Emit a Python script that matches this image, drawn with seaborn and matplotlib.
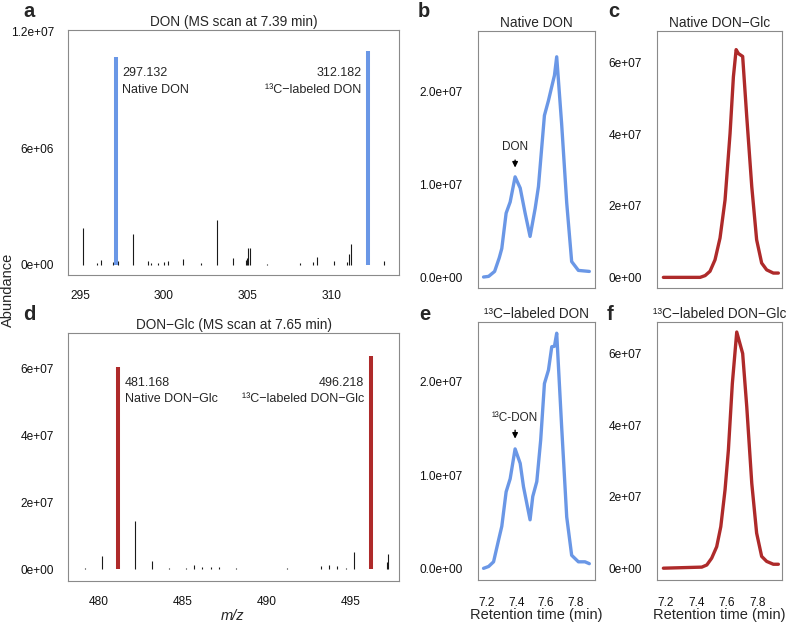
import numpy as np
import pandas as pd
import matplotlib
matplotlib.use("Agg")
import matplotlib.pyplot as plt
import seaborn as sns

# ---------------- data ----------------
# Panel a: MS scan of DON at 7.39 min
don_main_mz = [297.132, 312.182]
don_main_ab = [10.7e6, 11.0e6]
don_minor_mz = [295.20, 296.00, 296.25, 296.95, 297.28, 298.16, 299.07, 299.21, 299.63,
                300.02, 300.23, 301.14, 302.21, 303.15, 304.14, 304.89, 304.95, 305.03,
                305.13, 306.16, 308.11, 308.90, 309.10, 310.14, 310.90, 311.03, 311.15, 313.12]
don_minor_ab = [1.9e6, 0.1e6, 0.25e6, 0.15e6, 0.2e6, 1.6e6, 0.2e6, 0.1e6, 0.1e6,
                0.15e6, 0.2e6, 0.3e6, 0.1e6, 2.3e6, 0.35e6, 0.25e6, 0.35e6, 0.85e6,
                0.9e6, 0.05e6, 0.1e6, 0.15e6, 0.4e6, 0.2e6, 0.15e6, 0.55e6, 1.1e6, 0.2e6]
a_xticks = [295, 300, 305, 310]
a_yticks = [0, 6e6, 1.2e7]
a_ylabels = ["0e+00", "6e+06", "1.2e+07"]

# Panel d: MS scan of DON-Glc at 7.65 min
glc_main_mz = [481.168, 496.218]
glc_main_ab = [6.05e7, 6.37e7]
glc_minor_mz = [479.20, 480.23, 482.18, 483.19, 484.20, 485.20, 485.69, 486.18, 486.68,
                487.18, 488.17, 491.20, 492.23, 493.23, 493.72, 494.21, 494.71, 495.23,
                495.70, 497.19, 497.25]
glc_minor_ab = [0.05e7, 0.41e7, 1.44e7, 0.25e7, 0.05e7, 0.03e7, 0.12e7, 0.08e7, 0.06e7,
                0.08e7, 0.03e7, 0.05e7, 0.02e7, 0.10e7, 0.12e7, 0.10e7, 0.05e7, 0.51e7,
                0.02e7, 0.23e7, 0.46e7]
d_xticks = [480, 485, 490, 495]
d_yticks = [0, 2e7, 4e7, 6e7]
d_ylabels = ["0e+00", "2e+07", "4e+07", "6e+07"]

# Panel b: native DON chromatogram
b_time = [7.182, 7.216, 7.256, 7.287, 7.304, 7.333, 7.360, 7.393, 7.427, 7.460, 7.493, 7.527,
          7.549, 7.589, 7.616, 7.638, 7.656, 7.671, 7.704, 7.738, 7.771, 7.816, 7.889]
b_abund = [0.004e7, 0.011e7, 0.064e7, 0.21e7, 0.31e7, 0.69e7, 0.81e7, 1.08e7, 0.96e7, 0.69e7,
           0.44e7, 0.74e7, 0.975e7, 1.74e7, 1.90e7, 2.05e7, 2.17e7, 2.37e7, 1.65e7, 0.80e7,
           0.17e7, 0.075e7, 0.064e7]
# Panel e: 13C-labeled DON chromatogram
e_time = [7.182, 7.216, 7.249, 7.282, 7.304, 7.333, 7.360, 7.393, 7.427, 7.449, 7.493, 7.511,
          7.538, 7.564, 7.589, 7.616, 7.638, 7.656, 7.671, 7.704, 7.738, 7.771, 7.816, 7.860, 7.889]
e_abund = [0.0, 0.02e7, 0.07e7, 0.30e7, 0.45e7, 0.82e7, 0.96e7, 1.28e7, 1.125e7, 0.875e7,
           0.52e7, 0.77e7, 0.93e7, 1.375e7, 1.98e7, 2.125e7, 2.375e7, 2.38e7, 2.52e7, 1.52e7,
           0.55e7, 0.14e7, 0.07e7, 0.07e7, 0.05e7]
be_yticks = [0, 1e7, 2e7]
be_ylabels = ["0.0e+00", "1.0e+07", "2.0e+07"]

# Panel c: native DON-Glc chromatogram
c_time = [7.182, 7.424, 7.457, 7.489, 7.522, 7.555, 7.588, 7.621, 7.643, 7.661, 7.676, 7.704,
          7.731, 7.764, 7.796, 7.829, 7.862, 7.906, 7.939]
c_abund = [0.0, 0.0, 0.05e7, 0.17e7, 0.49e7, 1.10e7, 2.16e7, 4.02e7, 5.60e7, 6.36e7, 6.25e7,
           6.17e7, 4.48e7, 2.53e7, 1.05e7, 0.40e7, 0.21e7, 0.12e7, 0.12e7]
# Panel f: 13C-labeled DON-Glc chromatogram
f_time = [7.182, 7.435, 7.468, 7.500, 7.533, 7.560, 7.588, 7.610, 7.636, 7.665, 7.704, 7.731,
          7.764, 7.796, 7.829, 7.862, 7.906, 7.939]
f_abund = [0.0, 0.03e7, 0.09e7, 0.28e7, 0.60e7, 1.16e7, 2.19e7, 3.30e7, 5.16e7, 6.60e7, 6.00e7,
           4.51e7, 2.37e7, 0.98e7, 0.33e7, 0.19e7, 0.11e7, 0.11e7]
cf_yticks = [0, 2e7, 4e7, 6e7]
cf_ylabels = ["0e+00", "2e+07", "4e+07", "6e+07"]

rt_xticks = [7.2, 7.4, 7.6, 7.8]
rt_xlabels = ["7.2", "7.4", "7.6", "7.8"]

# ---------------- style ----------------
W, H = 787, 629
sns.set_theme(style="white")
plt.rcParams['font.family'] = ['Liberation Sans', 'DejaVu Sans']
plt.rcParams['axes.unicode_minus'] = True

BLUE = "#6A97E6"
RED = "#AE2A2A"
BOX = "#8a8a8a"
TICK_FS = 8.6
TITLE_FS = 9.8

fig = plt.figure(figsize=(W / 100, H / 100), dpi=100)


def add_ax(l, t, r, b):
    return fig.add_axes([l / W, 1 - b / H, (r - l) / W, (b - t) / H])


def style(ax, ypad=10, xpad=10.5):
    for s in ax.spines.values():
        s.set_color(BOX)
        s.set_linewidth(0.8)
    ax.tick_params(axis='both', length=0, labelsize=TICK_FS, colors='#111111')
    ax.tick_params(axis='y', pad=ypad)
    ax.tick_params(axis='x', pad=xpad)
    ax.grid(False)


ax_a = add_ax(68, 30, 399, 275)
ax_d = add_ax(68, 333, 399, 581)
ax_b = add_ax(478, 31, 595, 288)
ax_e = add_ax(478, 322, 595, 580)
ax_c = add_ax(657, 31, 782, 288)
ax_f = add_ax(657, 322, 782, 580)

# ---- panel a ----
ax_a.vlines(don_minor_mz, 0, don_minor_ab, color="#1a1a1a", lw=0.8)
ax_a.vlines(don_main_mz, 0, don_main_ab, color=BLUE, lw=2.9)
ax_a.set_xlim(294.28, 314.01)
ax_a.set_ylim(-0.515e6, 12.1e6)
ax_a.set_xticks(a_xticks)
ax_a.set_xticklabels([str(v) for v in a_xticks])
ax_a.set_yticks(a_yticks)
ax_a.set_yticklabels(a_ylabels)
ax_a.set_title("DON (MS scan at 7.39 min)", fontsize=TITLE_FS, pad=3)
ax_a.text(don_main_mz[0] + 0.38, 10.2e6, "297.132\nNative DON", ha='left', va='top',
          fontsize=9, linespacing=1.6)
ax_a.text(don_main_mz[1] - 0.40, 10.2e6, "312.182\n¹³C−labeled DON", ha='right', va='top',
          fontsize=9, linespacing=1.6, multialignment='right')
style(ax_a)

# ---- panel d ----
ax_d.vlines(glc_minor_mz, 0, glc_minor_ab, color="#1a1a1a", lw=0.8)
ax_d.vlines(glc_main_mz, 0, glc_main_ab, color=RED, lw=2.9)
ax_d.set_xlim(478.19, 497.88)
ax_d.set_ylim(-0.35e7, 7.06e7)
ax_d.set_xticks(d_xticks)
ax_d.set_xticklabels([str(v) for v in d_xticks])
ax_d.set_yticks(d_yticks)
ax_d.set_yticklabels(d_ylabels)
ax_d.set_title("DON−Glc (MS scan at 7.65 min)", fontsize=TITLE_FS, pad=3)
ax_d.text(glc_main_mz[0] + 0.42, 5.75e7, "481.168\nNative DON−Glc", ha='left', va='top',
          fontsize=9, linespacing=1.5)
ax_d.text(glc_main_mz[1] - 0.42, 5.75e7, "496.218\n¹³C−labeled DON−Glc", ha='right', va='top',
          fontsize=9, linespacing=1.5, multialignment='right')
style(ax_d)

# ---- chromatograms ----
chrom = [
    (ax_b, b_time, b_abund, BLUE, (7.145, 7.927), (-0.114e7, 2.647e7), be_yticks, be_ylabels, "Native DON", False),
    (ax_e, e_time, e_abund, BLUE, (7.145, 7.927), (-0.125e7, 2.64e7), be_yticks, be_ylabels, "¹³C−labeled DON", True),
    (ax_c, c_time, c_abund, RED, (7.14, 7.963), (-0.297e7, 6.88e7), cf_yticks, cf_ylabels, "Native DON−Glc", False),
    (ax_f, f_time, f_abund, RED, (7.14, 7.963), (-0.33e7, 6.88e7), cf_yticks, cf_ylabels, "¹³C−labeled DON−Glc", True),
]
for ax, t, v, col, xl, yl, yt, ylab, title, show_x in chrom:
    df = pd.DataFrame({"time": t, "abund": v})
    sns.lineplot(data=df, x="time", y="abund", ax=ax, color=col, lw=2.4, sort=False)
    ax.set_xlim(*xl)
    ax.set_ylim(*yl)
    ax.set_yticks(yt)
    ax.set_yticklabels(ylab)
    ax.set_xlabel("")
    ax.set_ylabel("")
    ax.set_title(title, fontsize=TITLE_FS, pad=3)
    if show_x:
        ax.set_xticks(rt_xticks)
        ax.set_xticklabels(rt_xlabels)
    else:
        ax.set_xticks([])
    style(ax, ypad=11, xpad=12)

# arrows
ax_b.annotate("", xy=(7.393, 1.15e7), xytext=(7.393, 1.29e7),
              arrowprops=dict(arrowstyle="-|>", color="black", lw=1.0, mutation_scale=8))
ax_b.text(7.393, 1.40e7, "DON", ha='center', va='center', fontsize=8.5)
ax_e.annotate("", xy=(7.393, 1.36e7), xytext=(7.393, 1.51e7),
              arrowprops=dict(arrowstyle="-|>", color="black", lw=1.0, mutation_scale=8))
ax_e.text(7.393, 1.61e7, "¹³C-DON", ha='center', va='center', fontsize=8.5)

# panel letters
for lab, x, y in [("a", 23, 17), ("b", 418, 17), ("c", 608, 17),
                  ("d", 23, 320), ("e", 419, 320), ("f", 607, 320)]:
    fig.text(x / W, 1 - y / H, lab, fontsize=14.5, fontweight='bold', ha='left', va='baseline')

# axis labels
fig.text(8 / W, 1 - 290 / H, "Abundance", rotation=90, ha='center', va='center', fontsize=10.5)
fig.text(233 / W, 1 - 616 / H, "m/z", style='italic', ha='center', va='center', fontsize=10.5)
fig.text(536.5 / W, 1 - 615 / H, "Retention time (min)", ha='center', va='center', fontsize=10.5)
fig.text(719.5 / W, 1 - 615 / H, "Retention time (min)", ha='center', va='center', fontsize=10.5)

fig.savefig("out.png", dpi=100)
